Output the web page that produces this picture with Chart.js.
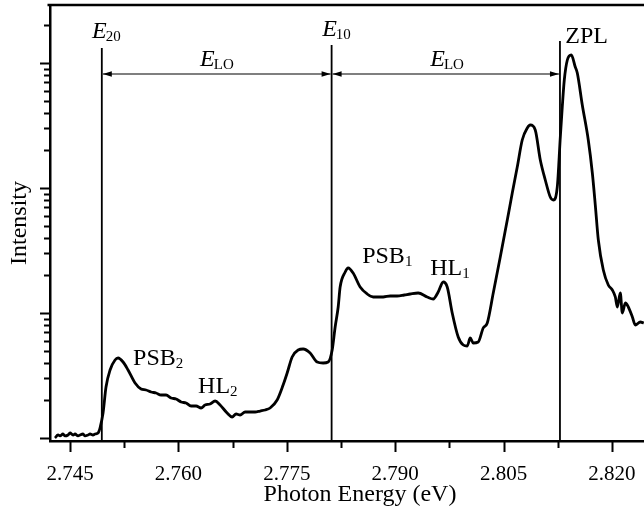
<!DOCTYPE html>
<html>
<head>
<meta charset="utf-8">
<script src="https://cdn.jsdelivr.net/npm/chart.js@4/dist/chart.umd.min.js"></script>
<style>
  html, body { margin: 0; padding: 0; background: #fff; }
</style>
</head>
<body>
<canvas id="grafico" width="644" height="510"></canvas>
<script>
// =============================
// DATA
// =============================
const energy = [
  2.74292, 2.74334, 2.74362, 2.74403, 2.74431, 2.74472, 2.74500, 2.74542, 2.74569, 2.74611,
  2.74638, 2.74680, 2.74708, 2.74749, 2.74777, 2.74818, 2.74846, 2.74888, 2.74902, 2.74915,
  2.74957, 2.74998, 2.75054, 2.75123, 2.75165, 2.75234, 2.75303, 2.75400, 2.75483, 2.75552,
  2.75622, 2.75691, 2.75760, 2.75829, 2.75898, 2.75968, 2.76037, 2.76106, 2.76175, 2.76245,
  2.76314, 2.76369, 2.76438, 2.76508, 2.76577, 2.76674, 2.76743, 2.76798, 2.76854, 2.76923,
  2.76992, 2.77062, 2.77131, 2.77200, 2.77269, 2.77366, 2.77449, 2.77505, 2.77574, 2.77657,
  2.77726, 2.77823, 2.77920, 2.78003, 2.78072, 2.78128, 2.78169, 2.78211, 2.78238, 2.78308,
  2.78349, 2.78418, 2.78515, 2.78612, 2.78695, 2.78833, 2.78931, 2.79027, 2.79125, 2.79208,
  2.79318, 2.79443, 2.79526, 2.79595, 2.79665, 2.79720, 2.79789, 2.79872, 2.79942, 2.79997,
  2.80038, 2.80080, 2.80149, 2.80218, 2.80274, 2.80357, 2.80454, 2.80551, 2.80620, 2.80689,
  2.80758, 2.80828, 2.80869, 2.80938, 2.81008, 2.81077, 2.81146, 2.81188, 2.81243, 2.81285,
  2.81312, 2.81340, 2.81382, 2.81437, 2.81492, 2.81520, 2.81589, 2.81672, 2.81728, 2.81769,
  2.81811, 2.81880, 2.81949, 2.82005, 2.82046, 2.82074, 2.82115, 2.82143, 2.82185, 2.82226,
  2.82282, 2.82323, 2.82392, 2.82440
];

const intensity = [
  1.00, 1.057, 1.038, 1.076, 1.038, 1.057, 1.096, 1.057, 1.076, 1.038,
  1.057, 1.076, 1.038, 1.057, 1.076, 1.057, 1.076, 1.096, 1.138, 1.202,
  1.585, 2.559, 3.499, 4.207, 4.365, 4.055, 3.499, 2.754, 2.466, 2.421,
  2.333, 2.291, 2.208, 2.208, 2.089, 2.051, 1.941, 1.905, 1.803, 1.803,
  1.738, 1.837, 1.871, 1.977, 1.837, 1.585, 1.472, 1.556, 1.528, 1.614,
  1.614, 1.614, 1.644, 1.675, 1.738, 2.014, 2.655, 3.311, 4.446, 5.058,
  5.152, 4.786, 4.055, 3.981, 4.055, 5.058, 7.727, 11.17, 16.14, 21.28,
  22.91, 20.89, 16.14, 14.19, 13.43, 13.43, 13.68, 13.68, 13.93, 14.19,
  14.45, 13.43, 12.94, 14.72, 17.70, 16.14, 10.0, 6.427, 5.546, 5.445,
  6.310, 5.754, 5.861, 7.586, 8.318, 14.45, 28.05, 55.46, 91.20, 147.2,
  242.1, 302.0, 319.2, 291.1, 167.5, 115.9, 84.72, 80.17, 101.9, 255.9,
  444.6, 731.1, 1057, 1159, 929, 831.8, 461.3, 242.1, 131.8, 73.11,
  38.37, 22.08, 16.75, 15.28, 13.43, 11.17, 14.45, 10.0, 12.02, 11.17,
  9.29, 8.017, 8.472, 8.318
];

// ticks
const xMajorTicks = [2.745, 2.760, 2.775, 2.790, 2.805, 2.820];
const xMinorTicks = [2.7525, 2.7675, 2.7825, 2.7975, 2.8125];
const yMajorTicks = [1, 10, 100, 1000];
const yMinorTicks = [2, 3, 4, 5, 6, 7, 8, 9, 20, 30, 40, 50, 60, 70, 80, 90,
  200, 300, 400, 500, 600, 700, 800, 900, 2000];

// marker lines E20, E10, ZPL
const markerEnergy = [2.7494, 2.7812, 2.8128];
const markerTop = [1318, 1393, 1500];
const arrowLevel = 817;

// =============================
// ANNOTATIONS
// =============================
const SERIF = '"Liberation Serif", "Times New Roman", serif';
const notes = [
  { text: "E", sub: "20", italic: true, e: 2.74805, i: 1585 },
  { text: "E", sub: "LO", italic: true, e: 2.76300, i: 946 },
  { text: "E", sub: "10", italic: true, e: 2.77989, i: 1644 },
  { text: "E", sub: "LO", italic: true, e: 2.79485, i: 946 },
  { text: "ZPL", sub: "", italic: false, e: 2.81354, i: 1437 },
  { text: "PSB", sub: "2", italic: false, e: 2.75372, i: 3.84 },
  { text: "HL", sub: "2", italic: false, e: 2.76272, i: 2.29 },
  { text: "PSB", sub: "1", italic: false, e: 2.78543, i: 25.1 },
  { text: "HL", sub: "1", italic: false, e: 2.79485, i: 20.1 }
];

const decoPlugin = {
  id: "deco",
  afterDatasetsDraw(chart) {
    const { ctx, chartArea: a, scales: { x, y } } = chart;
    ctx.save();
    ctx.strokeStyle = "#000";
    ctx.fillStyle = "#000";

    // top frame line
    ctx.lineWidth = 2.5;
    ctx.beginPath();
    ctx.moveTo(a.left - 2.5, a.top);
    ctx.lineTo(chart.width, a.top);
    ctx.stroke();

    // tick marks
    ctx.lineWidth = 2;
    ctx.beginPath();
    xMajorTicks.forEach(v => {
      const px = Math.round(x.getPixelForValue(v)) + 0.5;
      ctx.moveTo(px, a.bottom); ctx.lineTo(px, a.bottom + 11);
    });
    xMinorTicks.forEach(v => {
      const px = Math.round(x.getPixelForValue(v)) + 0.5;
      ctx.moveTo(px, a.bottom); ctx.lineTo(px, a.bottom + 7);
    });
    yMajorTicks.forEach(v => {
      const py = Math.round(y.getPixelForValue(v)) + 0.5;
      ctx.moveTo(a.left, py); ctx.lineTo(a.left - 10, py);
    });
    yMinorTicks.forEach(v => {
      const py = Math.round(y.getPixelForValue(v)) + 0.5;
      ctx.moveTo(a.left, py); ctx.lineTo(a.left - 6, py);
    });
    ctx.stroke();

    // vertical marker lines
    ctx.lineWidth = 1.8;
    const mx = markerEnergy.map(e => x.getPixelForValue(e));
    ctx.beginPath();
    mx.forEach((px, k) => {
      ctx.moveTo(px, y.getPixelForValue(markerTop[k]));
      ctx.lineTo(px, a.bottom);
    });
    ctx.stroke();

    // E_LO arrows
    const ay = y.getPixelForValue(arrowLevel);
    ctx.lineWidth = 1.2;
    for (let k = 0; k < mx.length - 1; k++) {
      const p1 = mx[k] + 1, p2 = mx[k + 1] - 1;
      ctx.beginPath();
      ctx.moveTo(p1, ay); ctx.lineTo(p2, ay);
      ctx.stroke();
      ctx.beginPath();
      ctx.moveTo(p1, ay); ctx.lineTo(p1 + 9, ay - 2.8); ctx.lineTo(p1 + 9, ay + 2.8); ctx.closePath();
      ctx.moveTo(p2, ay); ctx.lineTo(p2 - 9, ay - 2.8); ctx.lineTo(p2 - 9, ay + 2.8); ctx.closePath();
      ctx.fill();
    }

    // text labels with subscripts
    ctx.textBaseline = "alphabetic";
    ctx.textAlign = "left";
    notes.forEach(n => {
      const px = x.getPixelForValue(n.e);
      const py = y.getPixelForValue(n.i);
      ctx.font = (n.italic ? "italic " : "") + "24px " + SERIF;
      ctx.fillText(n.text, px, py);
      const w = ctx.measureText(n.text).width;
      if (n.sub) {
        ctx.font = "15px " + SERIF;
        ctx.fillText(n.sub, px + w - (n.italic ? 1 : 0), py + 3);
      }
    });

    // x axis title
    ctx.font = "24px " + SERIF;
    ctx.textAlign = "center";
    ctx.fillText("Photon Energy (eV)", a.left + 310, 501);

    ctx.restore();
  }
};

// =============================
// CHART
// =============================
new Chart(document.getElementById("grafico"), {
  type: "line",
  data: {
    datasets: [{
      data: energy.map((e, k) => ({ x: e, y: intensity[k] })),
      borderColor: "#000",
      borderWidth: 2.8,
      pointRadius: 0,
      cubicInterpolationMode: "monotone",
      fill: false
    }]
  },
  options: {
    responsive: false,
    animation: false,
    events: [],
    layout: { padding: { top: 5, right: 0, left: 0, bottom: 0 } },
    plugins: {
      legend: { display: false },
      tooltip: { enabled: false }
    },
    scales: {
      x: {
        type: "linear",
        bounds: "data",
        min: 2.74223,
        max: 2.82443,
        grid: { display: false },
        border: { display: true, color: "#000", width: 2.5 },
        afterBuildTicks: s => { s.ticks = xMajorTicks.map(v => ({ value: v })); },
        afterFit: s => { s.height = 69; s.paddingLeft = 0; s.paddingRight = 0; },
        ticks: {
          autoSkip: false,
          maxRotation: 0,
          padding: 13,
          color: "#000",
          font: { family: SERIF, size: 21 },
          callback: v => Number(v).toFixed(3)
        }
      },
      y: {
        type: "logarithmic",
        bounds: "data",
        min: 0.9462,
        max: 2911,
        grid: { display: false },
        border: { display: true, color: "#000", width: 2.5 },
        afterFit: s => { s.width = 50; s.paddingTop = 0; s.paddingBottom = 0; },
        ticks: { display: false },
        title: {
          display: true,
          text: "Intensity",
          color: "#000",
          padding: { top: 5, bottom: 0 },
          font: { family: SERIF, size: 24, weight: "normal" }
        }
      }
    }
  },
  plugins: [decoPlugin]
});
</script>
</body>
</html>
